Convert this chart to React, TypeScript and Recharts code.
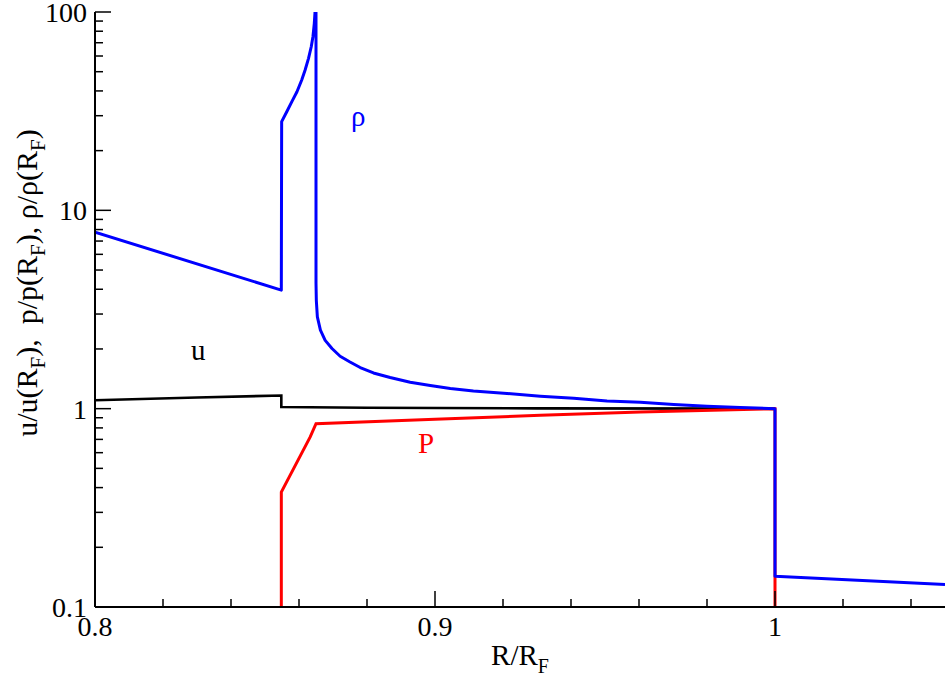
import React from "react";
import { LineChart, Line, XAxis, YAxis } from "recharts";

// radius R/R_F and normalised profiles
const rhoR = [
  0.8, 0.8548, 0.8549, 0.8564, 0.8579, 0.8594, 0.8608, 0.8618, 0.8628, 0.8636, 0.8641, 0.8645, 0.8647, 0.8649,
  0.865, 0.8650, 0.8651, 0.8654, 0.8663, 0.8677, 0.8697, 0.8721, 0.875, 0.878, 0.8819, 0.8868, 0.8927, 0.8986,
  0.9045, 0.9113, 0.9212, 0.931, 0.9408, 0.9506, 0.9604, 0.9702, 0.98, 0.9898, 1.0, 1.0, 1.05,
];
const rhoV = [
  7.76, 3.96, 28.0, 31.4, 35.3, 39.6, 45.4, 51.0, 58.4, 66.8, 75.1, 87.7, 99, 400,
  400, 4.3, 3.5, 2.9, 2.49, 2.21, 2.01, 1.838, 1.72, 1.612, 1.514, 1.435, 1.359, 1.308,
  1.263, 1.228, 1.192, 1.155, 1.128, 1.093, 1.077, 1.049, 1.028, 1.013, 1.0, 0.143, 0.13,
];

const uR = [0.8, 0.83, 0.8548, 0.8548, 0.88, 0.93, 1.0];
const uV = [1.103, 1.138, 1.165, 1.02, 1.01, 1.003, 1.0];

const pR = [0.8548, 0.8548, 0.8633, 0.865, 0.9, 0.931, 0.9604, 1.0, 1.0];
const pV = [0.01, 0.38, 0.72, 0.84, 0.885, 0.926, 0.962, 1.0, 0.01];

const xTicks = [0.8, 0.82, 0.84, 0.86, 0.88, 0.9, 0.92, 0.94, 0.96, 0.98, 1.0, 1.02, 1.04];
const yTicks = [
  0.1, 0.2, 0.3, 0.4, 0.5, 0.6, 0.7, 0.8, 0.9,
  1, 2, 3, 4, 5, 6, 7, 8, 9,
  10, 20, 30, 40, 50, 60, 70, 80, 90, 100,
];

const FONT = "'Liberation Serif', 'Times New Roman', Times, serif";
const serif = { fontFamily: FONT };
const toRows = (xs: number[], ys: number[]) => xs.map((r, i) => ({ r, v: ys[i] }));

const isMajorX = (v: number) => Math.abs(v * 10 - Math.round(v * 10)) < 1e-6;
const isMajorY = (v: number) => {
  const l = Math.log10(v);
  return Math.abs(l - Math.round(l)) < 1e-6;
};

function BottomTick({ x, y, payload }: any) {
  const major = isMajorX(payload.value);
  return (
    <g>
      <line x1={x} y1={y} x2={x} y2={y - (major ? 16 : 8)} stroke="#000" strokeWidth={1.5} />
      {major && (
        <text x={x} y={y + 29} textAnchor="middle" fontSize={28} style={serif} fill="#000">
          {String(Math.round(payload.value * 10) / 10)}
        </text>
      )}
    </g>
  );
}

function TopTick({ x, y, payload }: any) {
  const major = isMajorX(payload.value);
  return <line x1={x} y1={y} x2={x} y2={y + (major ? 16 : 8)} stroke="#000" strokeWidth={1.5} />;
}

function LeftTick({ x, y, payload }: any) {
  const major = isMajorY(payload.value);
  return (
    <g>
      <line x1={x} y1={y} x2={x + (major ? 16 : 8)} y2={y} stroke="#000" strokeWidth={1.5} />
      {major && (
        <text x={x - 8} y={y + 10} textAnchor="end" fontSize={28} style={serif} fill="#000">
          {String(payload.value)}
        </text>
      )}
    </g>
  );
}

function RightTick({ x, y, payload }: any) {
  const major = isMajorY(payload.value);
  return <line x1={x} y1={y} x2={x - (major ? 16 : 8)} y2={y} stroke="#000" strokeWidth={1.5} />;
}

export default function App() {
  const axisLine = { stroke: "#000", strokeWidth: 2 };
  return (
    <div style={{ position: "absolute", left: 0, top: 0, width: 949, height: 679, background: "#fff" }}>
      <LineChart width={949} height={679} margin={{ top: 12, right: 4, bottom: 0, left: 0 }}>
        <XAxis
          xAxisId="b"
          dataKey="r"
          type="number"
          domain={[0.8, 1.05]}
          allowDataOverflow
          ticks={xTicks}
          interval={0}
          height={72}
          tickSize={0}
          tickMargin={0}
          tickLine={false}
          axisLine={axisLine}
          tick={BottomTick}
        />
        <XAxis
          xAxisId="t"
          orientation="top"
          dataKey="r"
          type="number"
          domain={[0.8, 1.05]}
          allowDataOverflow
          ticks={xTicks}
          interval={0}
          height={0}
          tickSize={0}
          tickMargin={0}
          tickLine={false}
          axisLine={axisLine}
          tick={TopTick}
        />
        <YAxis
          yAxisId="l"
          type="number"
          scale="log"
          domain={[0.1, 100]}
          allowDataOverflow
          ticks={yTicks}
          interval={0}
          width={95}
          tickSize={0}
          tickMargin={0}
          tickLine={false}
          axisLine={axisLine}
          tick={LeftTick}
        />
        <YAxis
          yAxisId="rt"
          orientation="right"
          type="number"
          scale="log"
          domain={[0.1, 100]}
          allowDataOverflow
          ticks={yTicks}
          interval={0}
          width={0}
          tickSize={0}
          tickMargin={0}
          tickLine={false}
          axisLine={axisLine}
          tick={RightTick}
        />
        <Line
          xAxisId="b"
          yAxisId="l"
          data={toRows(uR, uV)}
          dataKey="v"
          type="linear"
          stroke="#000"
          strokeWidth={2.6}
          dot={false}
          isAnimationActive={false}
        />
        <Line
          xAxisId="b"
          yAxisId="l"
          data={toRows(pR, pV)}
          dataKey="v"
          type="linear"
          stroke="#ff0000"
          strokeWidth={3}
          dot={false}
          isAnimationActive={false}
        />
        <Line
          xAxisId="b"
          yAxisId="l"
          data={toRows(rhoR, rhoV)}
          dataKey="v"
          type="linear"
          stroke="#0000ff"
          strokeWidth={3}
          strokeLinejoin="round"
          dot={false}
          isAnimationActive={false}
        />
      </LineChart>
      <svg
        width={949}
        height={679}
        style={{ position: "absolute", left: 0, top: 0, pointerEvents: "none", fontFamily: FONT }}
      >
        <text x={520} y={665} textAnchor="middle" fontSize={29} fill="#000" style={serif}>
          R/R<tspan fontSize={20} dy={8}>F</tspan>
        </text>
        <text
          transform="translate(37,283) rotate(-90)"
          textAnchor="middle"
          fontSize={30}
          fill="#000"
          style={{ whiteSpace: "pre", fontFamily: FONT }}
        >
          u/u(R<tspan fontSize={21} dy={8}>F</tspan>
          <tspan dy={-8}>),  p/p(R</tspan>
          <tspan fontSize={21} dy={8}>F</tspan>
          <tspan dy={-8}>), ρ/ρ(R</tspan>
          <tspan fontSize={21} dy={8}>F</tspan>
          <tspan dy={-8}>)</tspan>
        </text>
        <text x={351} y={126} fontSize={29} fill="#0000ff" style={serif}>ρ</text>
        <text x={191} y={360} fontSize={29} fill="#000" style={serif}>u</text>
        <text x={418} y={453} fontSize={29} fill="#ff0000" style={serif}>P</text>
      </svg>
    </div>
  );
}
